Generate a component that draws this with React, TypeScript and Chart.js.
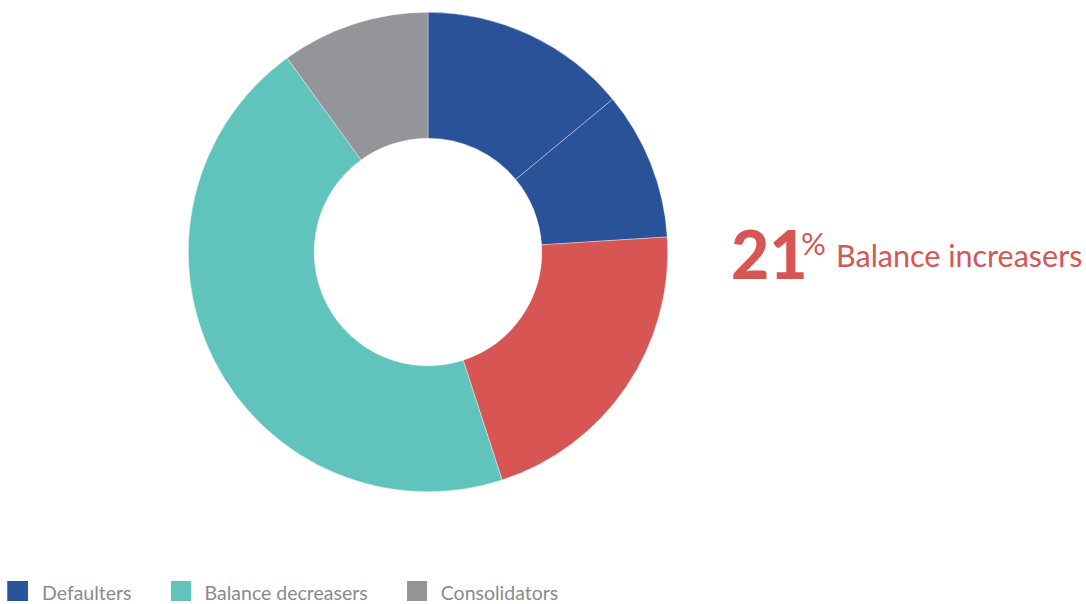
import React, { useEffect, useRef } from "react";
import { Chart, registerables } from "chart.js";

Chart.register(...registerables);

const segmentLabels = ["Defaulters", "Defaulters", "Balance increasers", "Balance decreasers", "Consolidators"];
const segmentValues = [14, 10, 21, 45, 10];
const segmentColors = ["#2a5298", "#2a5298", "#d75553", "#61c4bc", "#939598"];

const legendLabels = ["Defaulters", "Balance decreasers", "Consolidators"];
const legendColors = ["#2a5298", "#61c4bc", "#939598"];

const highlightValue = "21";
const highlightUnit = "%";
const highlightLabel = "Balance increasers";
const highlightColor = "#d75553";

export default function App() {
  const canvasRef = useRef<HTMLCanvasElement | null>(null);

  useEffect(() => {
    document.documentElement.style.overflow = "hidden";
    document.body.style.margin = "0";
    const canvas = canvasRef.current;
    if (!canvas) return;
    const chart = new Chart(canvas, {
      type: "doughnut",
      data: {
        labels: segmentLabels,
        datasets: [
          {
            data: segmentValues,
            backgroundColor: segmentColors,
            borderColor: "rgba(255,255,255,0.6)",
            borderWidth: 0.6,
            hoverOffset: 0,
          },
        ],
      },
      options: {
        animation: false,
        responsive: true,
        maintainAspectRatio: false,
        cutout: "47.5%",
        layout: { padding: 0 },
        plugins: {
          legend: { display: false },
          tooltip: { enabled: false },
        },
      },
    });
    return () => chart.destroy();
  }, []);

  const font = "Lato, 'Noto Sans', sans-serif";

  return (
    <div style={{ position: "relative", width: 1086, height: 604, fontFamily: font, overflow: "hidden" }}>
      <div style={{ position: "absolute", left: 188, top: 12, width: 480, height: 480 }}>
        <canvas ref={canvasRef} />
      </div>

      <span
        style={{
          position: "absolute",
          left: 731,
          top: 220.5,
          fontSize: 66,
          lineHeight: "66px",
          fontWeight: 900,
          color: highlightColor,
          whiteSpace: "nowrap",
        }}
      >
        {highlightValue}
      </span>
      <span
        style={{
          position: "absolute",
          left: 801,
          top: 227.5,
          fontSize: 31,
          lineHeight: "31px",
          fontWeight: 400,
          color: highlightColor,
          whiteSpace: "nowrap",
        }}
      >
        {highlightUnit}
      </span>
      <span
        style={{
          position: "absolute",
          left: 836,
          top: 240,
          fontSize: 30.5,
          lineHeight: "30.5px",
          fontWeight: 400,
          color: highlightColor,
          whiteSpace: "nowrap",
        }}
      >
        {highlightLabel}
      </span>

      <div
        style={{
          position: "absolute",
          left: 8,
          top: 581,
          display: "flex",
          alignItems: "flex-start",
          whiteSpace: "nowrap",
        }}
      >
        {legendLabels.map((label, i) => (
          <div key={label} style={{ display: "flex", alignItems: "flex-start", marginRight: 39 }}>
            <div
              style={{
                width: 20,
                height: 20,
                background: legendColors[i],
                boxShadow: i === 0 ? `-1px 0 0 ${highlightColor}` : undefined,
              }}
            />
            <span
              style={{
                marginLeft: 14,
                marginTop: 2,
                fontSize: 19.5,
                lineHeight: "20px",
                color: "#898b8e",
              }}
            >
              {label}
            </span>
          </div>
        ))}
      </div>
    </div>
  );
}
